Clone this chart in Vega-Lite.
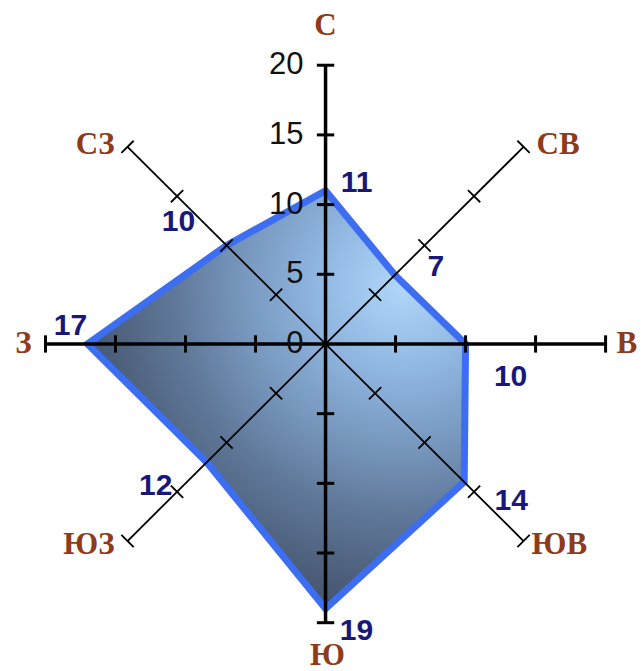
{
  "$schema": "https://vega.github.io/schema/vega-lite/v6.json",
  "width": 642,
  "height": 671,
  "autosize": {"type": "fit", "contains": "padding"},
  "padding": 0,
  "background": "white",
  "config": {"view": {"stroke": null}},
  "datasets": {
    "dirs": [
      {"dir": "С", "angle": 0, "value": 11},
      {"dir": "СВ", "angle": 45, "value": 7},
      {"dir": "В", "angle": 90, "value": 10},
      {"dir": "ЮВ", "angle": 135, "value": 14},
      {"dir": "Ю", "angle": 180, "value": 19},
      {"dir": "ЮЗ", "angle": 225, "value": 12},
      {"dir": "З", "angle": 270, "value": 17},
      {"dir": "СЗ", "angle": 315, "value": 10}
    ],
    "axes": [{"angle": 0}, {"angle": 90}, {"angle": 45}, {"angle": 135}],
    "ticks": [
      {"angle": 0, "r": [5, 10, 15, 20]},
      {"angle": 45, "r": [5, 10, 15, 20]},
      {"angle": 90, "r": [5, 10, 15, 20]},
      {"angle": 135, "r": [5, 10, 15, 20]},
      {"angle": 180, "r": [5, 10, 15, 20]},
      {"angle": 225, "r": [5, 10, 15, 20]},
      {"angle": 270, "r": [5, 10, 15, 20]},
      {"angle": 315, "r": [5, 10, 15, 20]}
    ],
    "scalelabels": [{"v": 0}, {"v": 5}, {"v": 10}, {"v": 15}, {"v": 20}]
  },
  "encoding": {
    "x": {"field": "x", "type": "quantitative", "scale": {"domain": [-23.25, 22.6], "nice": false, "zero": false}, "axis": null},
    "y": {"field": "y", "type": "quantitative", "scale": {"domain": [-23.25, 24.68], "nice": false, "zero": false}, "axis": null}
  },
  "layer": [
    {
      "data": {"name": "dirs"},
      "transform": [
        {"calculate": "datum.value*sin(datum.angle*PI/180)", "as": "x"},
        {"calculate": "datum.value*cos(datum.angle*PI/180)", "as": "y"}
      ],
      "mark": {
        "type": "line",
        "interpolate": "linear-closed",
        "fill": {
          "gradient": "radial",
          "x1": 0.8, "y1": 0.23, "r1": 0,
          "x2": 0.8, "y2": 0.23, "r2": 0.9,
          "stops": [
            {"offset": 0, "color": "#b0d6fa"},
            {"offset": 0.23, "color": "#8fb6e0"},
            {"offset": 0.45, "color": "#7493b9"},
            {"offset": 0.6, "color": "#60799a"},
            {"offset": 0.8, "color": "#4b5d78"},
            {"offset": 1, "color": "#38455b"}
          ]
        },
        "stroke": "#3d6df0",
        "strokeWidth": 7,
        "strokeJoin": "miter",
        "strokeMiterLimit": 10
      },
      "encoding": {"order": {"field": "angle", "type": "quantitative"}}
    },
    {
      "data": {"name": "axes"},
      "transform": [
        {"calculate": "-20*sin(datum.angle*PI/180)", "as": "x"},
        {"calculate": "-20*cos(datum.angle*PI/180)", "as": "y"},
        {"calculate": "20*sin(datum.angle*PI/180)", "as": "x2"},
        {"calculate": "20*cos(datum.angle*PI/180)", "as": "y2"}
      ],
      "mark": {"type": "rule", "color": "#000000"},
      "encoding": {
        "x2": {"field": "x2"},
        "y2": {"field": "y2"},
        "strokeWidth": {"condition": {"test": "datum.angle % 90 == 0", "value": 3.5}, "value": 1.8}
      }
    },
    {
      "data": {"name": "ticks"},
      "transform": [
        {"flatten": ["r"]},
        {"calculate": "datum.r*sin(datum.angle*PI/180)", "as": "cx"},
        {"calculate": "datum.r*cos(datum.angle*PI/180)", "as": "cy"},
        {"calculate": "datum.cx - 0.62*cos(datum.angle*PI/180)", "as": "x"},
        {"calculate": "datum.cy + 0.62*sin(datum.angle*PI/180)", "as": "y"},
        {"calculate": "datum.cx + 0.62*cos(datum.angle*PI/180)", "as": "x2"},
        {"calculate": "datum.cy - 0.62*sin(datum.angle*PI/180)", "as": "y2"}
      ],
      "mark": {"type": "rule", "color": "#000000"},
      "encoding": {
        "x2": {"field": "x2"},
        "y2": {"field": "y2"},
        "strokeWidth": {"condition": {"test": "datum.angle % 90 == 0", "value": 3}, "value": 1.8}
      }
    },
    {
      "data": {"name": "scalelabels"},
      "transform": [
        {"calculate": "0", "as": "x"},
        {"calculate": "datum.v", "as": "y"}
      ],
      "mark": {"type": "text", "align": "right", "baseline": "middle", "dx": -22, "font": "Liberation Sans", "fontSize": 31, "color": "#111111"},
      "encoding": {"text": {"field": "v", "type": "quantitative"}}
    },
    {
      "data": {"name": "dirs"},
      "transform": [
        {"calculate": "datum.value*sin(datum.angle*PI/180)", "as": "x"},
        {"calculate": "datum.value*cos(datum.angle*PI/180)", "as": "y"}
      ],
      "mark": {
        "type": "text", "align": "center", "baseline": "middle",
        "font": "Liberation Sans", "fontSize": 30, "fontWeight": "bold", "color": "#18187a",
        "dx": {"expr": "datum.angle==0?31:datum.angle==45?41:datum.angle==90?45:datum.angle==135?47:datum.angle==180?31:datum.angle==225?-51:datum.angle==270?-17:-48"},
        "dy": {"expr": "datum.angle==0?-8:datum.angle==45?-8:datum.angle==90?33:datum.angle==135?19:datum.angle==180?22:datum.angle==225?24:datum.angle==270?-18:-23"}
      },
      "encoding": {"text": {"field": "value", "type": "quantitative"}}
    },
    {
      "data": {"name": "dirs"},
      "transform": [
        {"calculate": "20*sin(datum.angle*PI/180)", "as": "x"},
        {"calculate": "20*cos(datum.angle*PI/180)", "as": "y"}
      ],
      "mark": {
        "type": "text", "baseline": "middle",
        "font": "Liberation Serif", "fontSize": 31, "fontWeight": "bold", "color": "#8e3a1c",
        "align": {"expr": "datum.angle==0||datum.angle==180?'center':datum.angle<180?'left':'right'"},
        "dx": {"expr": "datum.angle==0?0:datum.angle==45?13:datum.angle==90?11:datum.angle==135?8:datum.angle==180?2:datum.angle==225?-13:datum.angle==270?-14:-13"},
        "dy": {"expr": "datum.angle==0?-39:datum.angle==45?-2:datum.angle==90?0:datum.angle==135?4:datum.angle==180?33:datum.angle==225?4:datum.angle==270?0:-2"}
      },
      "encoding": {"text": {"field": "dir", "type": "nominal"}}
    }
  ]
}
